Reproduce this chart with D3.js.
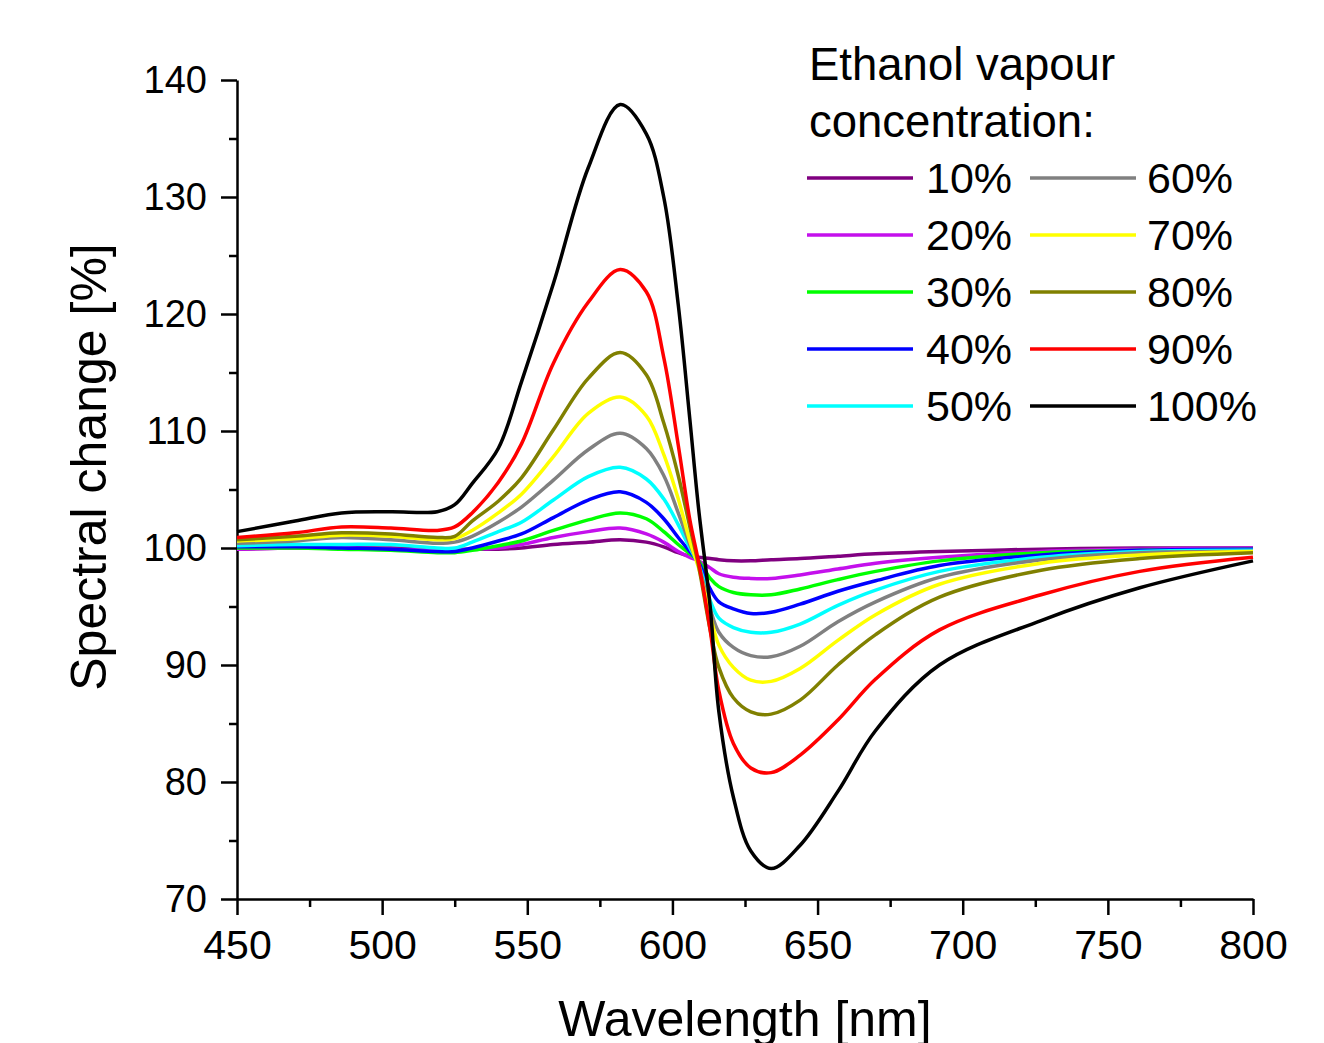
<!DOCTYPE html>
<html>
<head>
<meta charset="utf-8">
<script src="https://cdn.jsdelivr.net/npm/d3@7"></script>
<style>
  body { margin: 0; background: #fff; }
  text { font-family: "Liberation Sans", Arial, sans-serif; fill: #000; }
</style>
</head>
<body>
<div id="container"></div>
<script>
const w = 1324;
const h = 1043;

// wavelength grid (nm)
const wavelengths = [450, 470, 486, 503, 519, 525, 531, 540, 548, 559, 571, 582, 591, 597, 602, 606, 609, 613, 616, 621, 627, 634, 644, 657, 670, 692, 727, 761, 800];

const labels = ["10%", "20%", "30%", "40%", "50%", "60%", "70%", "80%", "90%", "100%"];
const colors = ["#800080", "#c410ec", "#00ff00", "#0000ff", "#00ffff", "#808080", "#ffff00", "#808000", "#ff0000", "#000000"];

// spectral change [%] for each concentration
const c10  = [99.9, 100.0, 100.0, 100.0, 99.9, 99.9, 99.9, 99.9, 100.0, 100.3, 100.5, 100.7, 100.5, 100.1, 99.6, 99.3, 99.2, 99.1, 99.0, 98.9, 98.9, 99.0, 99.1, 99.3, 99.5, 99.7, 99.9, 100.0, 100.0];
const c20  = [99.9, 100.0, 100.0, 99.9, 99.8, 99.8, 99.9, 100.0, 100.3, 100.9, 101.4, 101.7, 101.2, 100.5, 99.7, 99.2, 98.9, 98.3, 97.8, 97.5, 97.4, 97.4, 97.7, 98.2, 98.7, 99.2, 99.7, 99.9, 100.0];
const c30  = [100.0, 100.0, 99.9, 99.8, 99.6, 99.6, 99.8, 100.2, 100.6, 101.5, 102.4, 103.0, 102.5, 101.4, 100.3, 99.5, 98.9, 97.4, 96.7, 96.2, 96.0, 96.0, 96.5, 97.3, 98.0, 98.9, 99.6, 99.8, 99.9];
const c40  = [100.1, 100.1, 100.0, 99.9, 99.7, 99.7, 100.0, 100.6, 101.2, 102.6, 104.1, 104.8, 103.9, 102.5, 100.9, 99.7, 98.8, 96.5, 95.4, 94.8, 94.4, 94.5, 95.2, 96.3, 97.2, 98.5, 99.4, 99.8, 99.9];
const c50  = [100.2, 100.3, 100.3, 100.3, 100.0, 100.0, 100.5, 101.4, 102.2, 104.1, 106.1, 106.9, 105.9, 104.2, 102.0, 100.0, 98.6, 95.5, 94.0, 93.2, 92.8, 92.8, 93.5, 95.1, 96.4, 98.0, 99.2, 99.7, 99.8];
const c60  = [100.4, 100.6, 100.9, 100.7, 100.4, 100.5, 101.0, 102.2, 103.5, 105.8, 108.4, 109.8, 108.5, 106.2, 103.0, 100.3, 98.5, 94.8, 92.8, 91.5, 90.8, 90.7, 91.6, 93.7, 95.4, 97.5, 99.0, 99.6, 99.7];
const c70  = [100.6, 100.8, 101.1, 101.0, 100.7, 100.8, 101.5, 103.0, 104.6, 107.8, 111.5, 112.9, 111.3, 108.0, 104.2, 100.6, 98.3, 94.3, 91.7, 89.8, 88.7, 88.6, 89.7, 92.1, 94.3, 96.9, 98.7, 99.4, 99.7];
const c80  = [100.7, 101.0, 101.3, 101.2, 100.9, 101.0, 102.3, 104.0, 106.0, 110.1, 114.5, 116.7, 114.8, 110.7, 106.2, 101.8, 98.5, 93.0, 89.8, 87.2, 86.0, 85.8, 87.0, 90.0, 92.6, 95.8, 98.1, 99.1, 99.6];
const c90  = [100.9, 101.3, 101.8, 101.7, 101.5, 101.8, 103.0, 105.6, 108.9, 115.8, 121.0, 123.8, 121.9, 116.3, 108.8, 102.4, 98.8, 93.0, 87.8, 83.3, 81.2, 80.8, 82.3, 85.3, 88.8, 93.0, 96.0, 98.0, 99.2];
const c100 = [101.4, 102.3, 103.0, 103.1, 103.1, 103.7, 105.5, 108.5, 114.2, 122.6, 132.5, 137.9, 135.4, 130.0, 120.8, 111.0, 103.4, 95.0, 86.0, 78.7, 74.1, 72.6, 74.6, 79.2, 84.4, 90.0, 93.8, 96.6, 98.9];

const series = [c10, c20, c30, c40, c50, c60, c70, c80, c90, c100];

const xTicks = [450, 500, 550, 600, 650, 700, 750, 800];
const yTicks = [70, 80, 90, 100, 110, 120, 130, 140];

const padLeft = 237, padRight = 1253, padTop = 80, padBottom = 899;

const svg = d3.select("#container")
  .append("svg")
  .attr("width", w)
  .attr("height", h);

const xScale = d3.scaleLinear().domain([450, 800]).range([padLeft, padRight]);
const yScale = d3.scaleLinear().domain([70, 140]).range([padBottom, padTop]);

// minor ticks first
svg.append("g")
  .attr("transform", "translate(0," + padBottom + ")")
  .call(d3.axisBottom(xScale).tickValues(d3.range(475, 800, 50)).tickSize(8).tickFormat(""))
  .call(g => g.select(".domain").remove())
  .call(g => g.selectAll("line").attr("stroke-width", 2.5));

svg.append("g")
  .attr("transform", "translate(" + padLeft + ",0)")
  .call(d3.axisLeft(yScale).tickValues(d3.range(75, 140, 10)).tickSize(8).tickFormat(""))
  .call(g => g.select(".domain").remove())
  .call(g => g.selectAll("line").attr("stroke-width", 2.5));

const xAxis = svg.append("g")
  .attr("transform", "translate(0," + padBottom + ")")
  .call(d3.axisBottom(xScale).tickValues(xTicks).tickSize(16).tickSizeOuter(0).tickPadding(15));
xAxis.select(".domain").attr("stroke-width", 2.5);
xAxis.selectAll("line").attr("stroke-width", 2.5);
xAxis.selectAll("text").style("font-size", "41px").attr("font-family", null);

const yAxis = svg.append("g")
  .attr("transform", "translate(" + padLeft + ",0)")
  .call(d3.axisLeft(yScale).tickValues(yTicks).tickSize(16).tickSizeOuter(0).tickPadding(14));
yAxis.select(".domain").attr("stroke-width", 2.5);
yAxis.selectAll("line").attr("stroke-width", 2.5);
yAxis.selectAll("text").style("font-size", "38px").attr("font-family", null);

// curves
const line = d3.line()
  .x((d, i) => xScale(wavelengths[i]))
  .y(d => yScale(d))
  .curve(d3.curveCatmullRom.alpha(0.5));

svg.append("g")
  .selectAll("path")
  .data(series)
  .enter()
  .append("path")
  .attr("d", line)
  .attr("fill", "none")
  .attr("stroke", (d, i) => colors[i])
  .attr("stroke-width", 3.5)
  .attr("stroke-linejoin", "round");

// axis titles
svg.append("text")
  .attr("x", 745)
  .attr("y", 1036)
  .attr("text-anchor", "middle")
  .style("font-size", "50px")
  .text("Wavelength [nm]");

svg.append("text")
  .attr("transform", "translate(106," + 467 + ") rotate(-90)")
  .attr("text-anchor", "middle")
  .style("font-size", "50px")
  .text("Spectral change [%]");

// legend
const legend = svg.append("g");
legend.append("text").attr("x", 809).attr("y", 80).style("font-size", "45.5px").text("Ethanol vapour");
legend.append("text").attr("x", 809).attr("y", 137).style("font-size", "45.5px").text("concentration:");

labels.forEach((lab, i) => {
  const col = Math.floor(i / 5);
  const row = i % 5;
  const y = 178 + row * 57;
  const x0 = col === 0 ? 807 : 1030;
  legend.append("line")
    .attr("x1", x0).attr("x2", x0 + 106)
    .attr("y1", y).attr("y2", y)
    .attr("stroke", colors[i])
    .attr("stroke-width", 3.5);
  legend.append("text")
    .attr("x", col === 0 ? 926 : 1147)
    .attr("y", y + 15)
    .style("font-size", "43px")
    .text(lab);
});
</script>
</body>
</html>
